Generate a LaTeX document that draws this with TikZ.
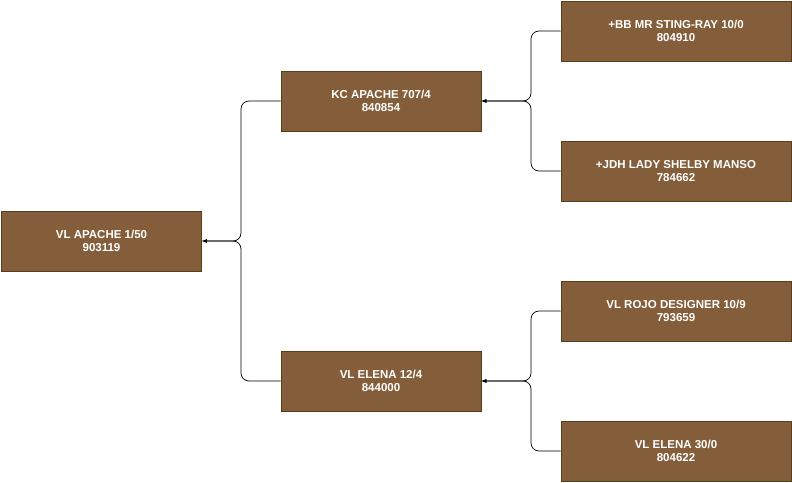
\documentclass[tikz,border=0pt]{standalone}
\usepackage{fontspec}
\setmainfont{Liberation Sans}
\definecolor{boxfill}{HTML}{845E3B}
\definecolor{boxline}{HTML}{5C3D1A}
\begin{document}
\begin{tikzpicture}[x=1pt,y=-1pt,
  box/.style={draw=boxline,fill=boxfill,text=white,font=\bfseries\fontsize{11.5}{13.5}\selectfont,align=center,minimum width=#1,minimum height=60pt,inner sep=0pt,line width=0.8pt},
  box/.default=200pt,
  link/.style={draw,line width=0.7pt,rounded corners=8pt,-latex}]
\useasboundingbox (0,0) rectangle (792,482);
\node[box] (root) at (101.5,241) {VL APACHE 1/50\\903119};
\node[box] (kc) at (381,101) {KC APACHE 707/4\\840854};
\node[box] (el) at (381,381) {VL ELENA 12/4\\844000};
\node[box=230pt] (bb) at (676,31) {+BB MR STING-RAY 10/0\\804910};
\node[box=230pt] (jdh) at (676,171) {+JDH LADY SHELBY MANSO\\784662};
\node[box=230pt] (rojo) at (676,311) {VL ROJO DESIGNER 10/9\\793659};
\node[box=230pt] (el30) at (676,451) {VL ELENA 30/0\\804622};
\draw[link] (kc.west) -- (241,101) |- (root.east);
\draw[link] (el.west) -- (241,381) |- (root.east);
\draw[link] (bb.west) -- (531,31) |- (kc.east);
\draw[link] (jdh.west) -- (531,171) |- (kc.east);
\draw[link] (rojo.west) -- (531,311) |- (el.east);
\draw[link] (el30.west) -- (531,451) |- (el.east);
\end{tikzpicture}
\end{document}
